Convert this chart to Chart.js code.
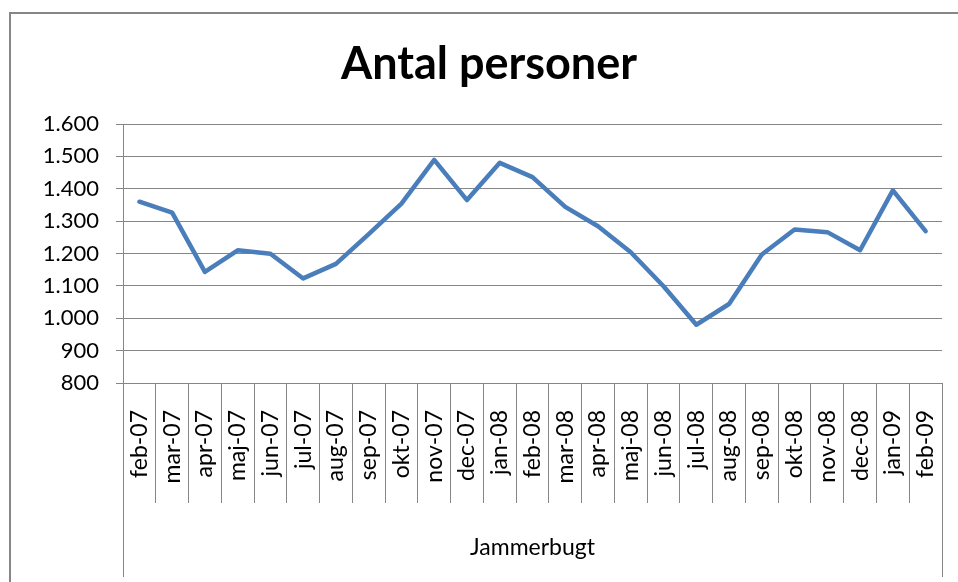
<!DOCTYPE html>
<html>
<head>
<meta charset="utf-8">
<script src="https://cdn.jsdelivr.net/npm/chart.js@4/dist/chart.umd.min.js"></script>
<style>
  body { margin: 0; background: #ffffff; }
  #canvas { display: block; }
</style>
</head>
<body>
<canvas id="canvas" width="958" height="582"></canvas>
<script>
  //data
  var months = ["feb-07", "mar-07", "apr-07", "maj-07", "jun-07", "jul-07", "aug-07", "sep-07",
                "okt-07", "nov-07", "dec-07", "jan-08", "feb-08", "mar-08", "apr-08", "maj-08",
                "jun-08", "jul-08", "aug-08", "sep-08", "okt-08", "nov-08", "dec-08", "jan-09", "feb-09"];
  var persons = [1360, 1326, 1143, 1210, 1199, 1123, 1168, 1260, 1354, 1489, 1365, 1480, 1436,
                 1344, 1284, 1204, 1099, 980, 1044, 1197, 1274, 1266, 1210, 1395, 1269];
  var chartTitle = "Antal personer";
  var groupName = "Jammerbugt";

  var gridColor = "#868686";
  var fontName = "Lato, 'Open Sans', sans-serif";

  //thousands with a dot, like in danish excel
  function formatDk(v)
  {
      return String(v).replace(/\B(?=(\d{3})+(?!\d))/g, ".");
  }

  //outer frame of the chart object and the long group lines under the axis
  var framePlugin = {
      id: 'frame',
      beforeDraw: function(chart)
      {
          var ctx = chart.ctx;
          ctx.save();
          ctx.strokeStyle = gridColor;
          ctx.lineWidth = 2;
          ctx.beginPath();
          ctx.moveTo(10, chart.height);
          ctx.lineTo(10, 13);
          ctx.lineTo(chart.width, 13);
          ctx.stroke();
          ctx.restore();
      },
      afterDraw: function(chart)
      {
          var ctx = chart.ctx;
          var xs = chart.scales.x;
          ctx.save();
          ctx.strokeStyle = gridColor;
          ctx.lineWidth = 1;
          [xs.left, xs.right].forEach(function(px)
          {
              var p = Math.round(px) + 0.5;
              ctx.beginPath();
              ctx.moveTo(p, xs.top);
              ctx.lineTo(p, chart.height - 5);
              ctx.stroke();
          });
          ctx.restore();
      }
  };

  var ctx = document.getElementById("canvas").getContext("2d");
  window.myLine = new Chart(ctx, {
      type: 'line',
      data: {
          labels: months,
          datasets: [
            {
              label: chartTitle,
              data: persons,
              borderColor: "#4a7ebb",
              borderWidth: 4.5,
              borderJoinStyle: 'round',
              borderCapStyle: 'round',
              pointRadius: 0,
              tension: 0,
              fill: false
            }
          ]
      },
      options: {
          responsive: false,
          animation: false,
          layout: {
              //left padding moves the title a bit right, y axis box makes up for it
              padding: { left: 36, right: 16, top: 0, bottom: 0 }
          },
          plugins: {
              legend: { display: false },
              tooltip: { enabled: false },
              title: {
                  display: true,
                  text: chartTitle,
                  color: "#000000",
                  font: { family: fontName, size: 45, weight: 'bold', lineHeight: 1.2 },
                  padding: { top: 37, bottom: 33 }
              }
          },
          scales: {
              x: {
                  offset: true,
                  afterFit: function(scale) { scale.height = 199; },
                  grid: {
                      offset: true,
                      drawOnChartArea: false,
                      tickLength: 120,
                      color: gridColor
                  },
                  border: { display: true, color: gridColor },
                  ticks: {
                      autoSkip: false,
                      minRotation: 90,
                      maxRotation: 90,
                      padding: -93,
                      color: "#000000",
                      font: { family: fontName, size: 23 }
                  },
                  title: {
                      display: true,
                      text: groupName,
                      color: "#000000",
                      font: { family: fontName, size: 23, lineHeight: 1.2 },
                      padding: { top: 0, bottom: 21 }
                  }
              },
              y: {
                  min: 800,
                  max: 1600,
                  afterFit: function(scale) { scale.width = 87; },
                  grid: {
                      color: gridColor,
                      tickLength: 7
                  },
                  border: { display: true, color: gridColor },
                  ticks: {
                      stepSize: 100,
                      padding: 17,
                      color: "#000000",
                      font: { family: fontName, size: 22 },
                      callback: function(v) { return formatDk(v); }
                  }
              }
          }
      },
      plugins: [framePlugin]
  });
</script>
</body>
</html>
